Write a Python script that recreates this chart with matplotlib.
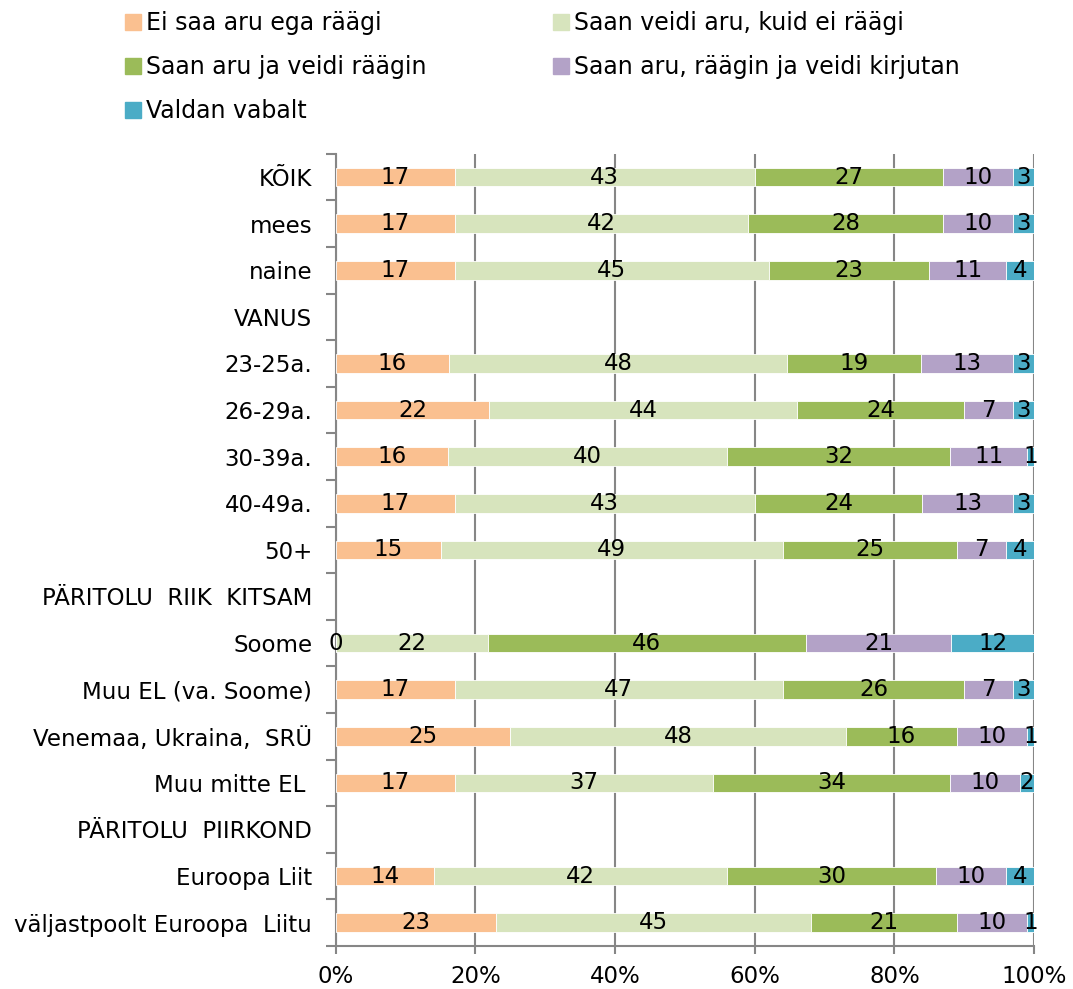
import matplotlib.pyplot as plt
import matplotlib.patches as mpatches
import numpy as np

plt.rcParams['font.family'] = ['DejaVu Sans']

# Categories top to bottom (heading rows have no bars)
categories = ['KÕIK', 'mees', 'naine', 'VANUS', '23-25a.', '26-29a.', '30-39a.',
              '40-49a.', '50+', 'PÄRITOLU  RIIK  KITSAM', 'Soome', 'Muu EL (va. Soome)',
              'Venemaa, Ukraina,  SRÜ', 'Muu mitte EL ', 'PÄRITOLU  PIIRKOND',
              'Euroopa Liit', 'väljastpoolt Euroopa  Liitu']

series_names = ['Ei saa aru ega räägi', 'Saan veidi aru, kuid ei räägi',
                'Saan aru ja veidi räägin', 'Saan aru, räägin ja veidi kirjutan',
                'Valdan vabalt']

ei_saa = [17, 17, 17, None, 16, 22, 16, 17, 15, None, 0, 17, 25, 17, None, 14, 23]
veidi_aru = [43, 42, 45, None, 48, 44, 40, 43, 49, None, 22, 47, 48, 37, None, 42, 45]
aru_raagin = [27, 28, 23, None, 19, 24, 32, 24, 25, None, 46, 26, 16, 34, None, 30, 21]
kirjutan = [10, 10, 11, None, 13, 7, 11, 13, 7, None, 21, 7, 10, 10, None, 10, 10]
vabalt = [3, 3, 4, None, 3, 3, 1, 3, 4, None, 12, 3, 1, 2, None, 4, 1]

colors = ['#FAC090', '#D7E4BD', '#9BBB59', '#B3A2C7', '#4BACC6']

series = [ei_saa, veidi_aru, aru_raagin, kirjutan, vabalt]

fig = plt.figure(figsize=(10.73, 9.89), dpi=100)
ax = fig.add_axes([0.313, 0.0435, 0.6507, 0.801])

rows = [i for i, v in enumerate(ei_saa) if v is not None]
vals = np.array([[s[i] for i in rows] for s in series], dtype=float)
totals = vals.sum(axis=0)
pct = vals / totals * 100

left = np.zeros(len(rows))
for k in range(len(series)):
    bars = ax.barh(rows, pct[k], left=left, height=0.4, color=colors[k],
                   edgecolor='white', linewidth=0.6, zorder=3)
    ax.bar_label(bars, labels=[str(int(v)) for v in vals[k]], label_type='center',
                 fontsize=16.5, color='black', zorder=4)
    left += pct[k]

ax.set_xlim(0, 100)
ax.set_ylim(len(categories) - 0.5, -0.5)
ax.set_yticks(range(len(categories)))
ax.set_yticklabels(categories, fontsize=16.5)
ax.set_yticks(np.arange(-0.5, len(categories), 1), minor=True)
ax.tick_params(axis='y', which='major', length=0, pad=17)
ax.tick_params(axis='y', which='minor', length=7, color='#868686', width=1.5)

ax.set_xticks(range(0, 101, 20))
ax.set_xticklabels([f'{t}%' for t in range(0, 101, 20)], fontsize=16.5)
ax.tick_params(axis='x', length=6, color='#868686', width=1.5, pad=8)
ax.xaxis.grid(True, color='#868686', linewidth=1.5, zorder=0)

for side in ['top', 'right']:
    ax.spines[side].set_visible(False)
for side in ['left', 'bottom']:
    ax.spines[side].set_color('#868686')
    ax.spines[side].set_linewidth(1.5)

handles = [mpatches.Patch(color=c, label=n) for c, n in zip(colors, series_names)]
order = [0, 2, 4, 1, 3]
fig.legend([handles[i] for i in order], [series_names[i] for i in order],
           ncol=2, loc='upper left', bbox_to_anchor=(0.097, 1.01), frameon=False,
           fontsize=17, handlelength=0.68, handleheight=0.7, handletextpad=0.2,
           columnspacing=5.37, labelspacing=0.85)

fig.savefig('out.png', dpi=100)
